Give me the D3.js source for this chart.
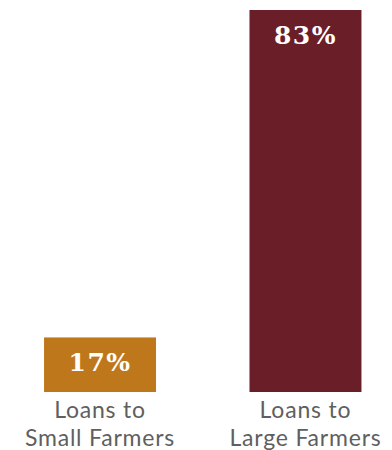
<!DOCTYPE html>
<html>
<head>
<meta charset="utf-8">
<script src="https://cdn.jsdelivr.net/npm/d3@7/dist/d3.min.js"></script>
<style>
  html, body { margin: 0; padding: 0; background: #fff; }
  svg { display: block; }
</style>
</head>
<body>
<svg id="chart" width="392" height="450"></svg>
<script>
// Share of loans by farmer size
const categories = ["Small", "Large"];
const labelLines = [["Loans to", "Small Farmers"], ["Loans to", "Large Farmers"]];
const shares = [17, 83];
const colors = ["#BF771B", "#6A1F28"];

const svg = d3.select("#chart");

const x = d3.scaleBand()
  .domain(categories)
  .range([23.5, 382])
  .paddingInner(0.455)
  .paddingOuter(0.1);

const y = d3.scaleLinear()
  .domain([6, 83])
  .range([392, 10]);

const bars = svg.selectAll("g.bar")
  .data(categories)
  .join("g")
  .attr("class", "bar");

bars.append("rect")
  .attr("x", d => x(d))
  .attr("width", x.bandwidth())
  .attr("y", (d, i) => y(shares[i]))
  .attr("height", (d, i) => y.range()[0] - y(shares[i]))
  .attr("fill", (d, i) => colors[i]);

bars.append("text")
  .attr("x", d => x(d) + x.bandwidth() / 2)
  .attr("y", (d, i) => y(shares[i]) + 34)
  .attr("text-anchor", "middle")
  .attr("fill", "#fff")
  .style("font-family", "'DejaVu Serif', serif")
  .style("font-weight", "bold")
  .style("font-size", "25px")
  .style("letter-spacing", "1.5px")
  .text((d, i) => shares[i] + "%");

// Two-line category captions under each bar
const lineBaselines = [418, 446];
categories.forEach((c, i) => {
  svg.selectAll(null)
    .data(labelLines[i])
    .join("text")
    .attr("class", "cat")
    .attr("x", x(c) + x.bandwidth() / 2)
    .attr("y", (d, j) => lineBaselines[j])
    .attr("text-anchor", "middle")
    .attr("fill", "#5f5f5f")
    .style("font-family", "Lato, sans-serif")
    .style("font-size", "23px")
    .style("letter-spacing", "0.8px")
    .text(d => d);
});
</script>
</body>
</html>
